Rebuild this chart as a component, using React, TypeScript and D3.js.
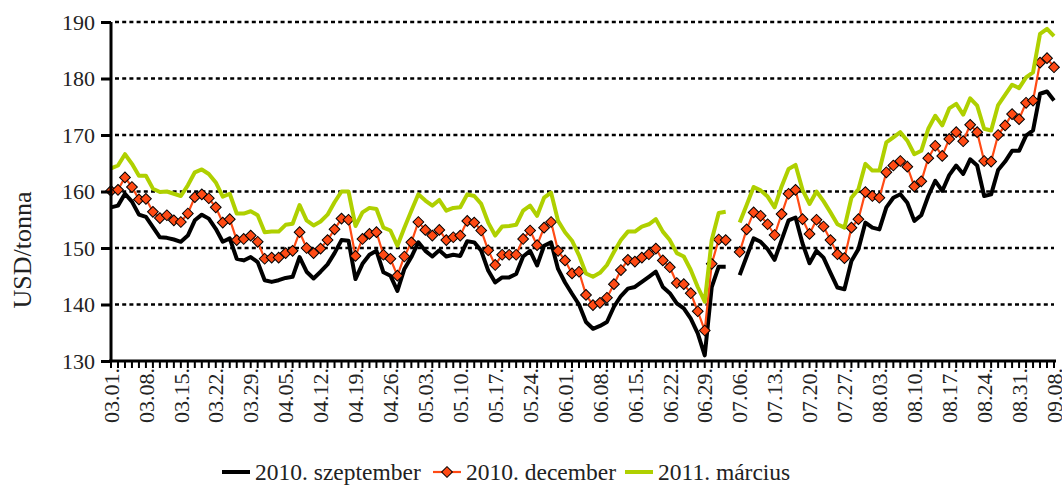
import React, { useRef, useEffect } from 'react';
import * as d3 from 'd3';

// tick labels, every 5th trading day
const tickLabels = ['03.01.', '03.08.', '03.15.', '03.22.', '03.29.', '04.05.', '04.12.', '04.19.', '04.26.', '05.03.',
    '05.10.', '05.17.', '05.24.', '06.01.', '06.08.', '06.15.', '06.22.', '06.29.', '07.06.', '07.13.',
    '07.20.', '07.27.', '08.03.', '08.10.', '08.17.', '08.24.', '08.31.', '09.08.'];

const yTicks = [130, 140, 150, 160, 170, 180, 190];

// USD/tonna, 2010. szeptember
const sept = [157.2, 157.5, 159.6, 158.2, 155.9, 155.5, 153.7, 151.9, 151.8, 151.5, 151.1, 152.2, 154.9, 155.9, 155.2, 153.4, 151.1, 151.7, 148.1, 147.8,
    148.4, 147.5, 144.3, 144.0, 144.3, 144.7, 144.9, 148.4, 145.8, 144.6, 145.8, 147.1, 149.1, 151.4,
    151.3, 144.5, 147.2, 148.8, 149.5, 145.7, 145.1, 142.4, 146.3, 148.4, 151.0, 149.5, 148.5, 149.6, 148.5, 148.8, 148.6, 151.2, 151.0, 149.5,
    146.0, 143.9, 144.8, 144.8, 145.4, 148.5, 149.5, 146.9, 150.4, 151.0, 146.3, 143.9, 141.9, 140.0,
    136.9, 135.7, 136.2, 136.9, 139.6, 141.5, 142.8, 143.1, 144.0, 144.9, 145.8, 143.1, 142.0, 140.2, 139.3, 137.5, 134.9, 131.0, 143.1, 146.7, 146.7,
    null,
    145.2, 148.5, 151.7, 151.1, 149.8, 147.9, 151.4, 154.9, 155.4, 150.8, 147.3,
    149.5, 148.3, 145.6, 143.0, 142.7, 147.7, 149.8, 154.5, 153.6, 153.3, 157.2, 158.9, 159.5, 158.0, 154.8, 155.8, 159.2, 161.9, 160.1, 162.9,
    164.6, 163.1, 165.7, 164.6, 159.2, 159.5, 163.8, 165.3, 167.2, 167.2, 169.9, 170.8, 177.3, 177.7, 176.1];

// 2010. december
const dec = [160.1, 160.3, 162.5, 160.8, 158.6, 158.7, 156.4, 155.3, 155.8, 154.9, 154.6, 156.1, 159.0, 159.5, 158.8, 157.2, 154.5, 155.1, 151.4, 151.6,
    152.2, 151.1, 148.1, 148.3, 148.3, 149.1, 149.5, 152.8, 150.0, 149.1, 149.9, 151.4, 153.3, 155.2,
    155.0, 148.6, 151.6, 152.5, 152.8, 148.8, 148.1, 145.1, 148.5, 151.0, 154.6, 153.2, 152.2, 153.2, 151.4, 151.9, 152.2, 154.8, 154.5, 153.1,
    149.6, 147.0, 148.8, 148.8, 148.8, 151.6, 153.1, 150.5, 153.6, 154.6, 149.5, 147.8, 145.5, 145.8,
    141.7, 139.9, 140.3, 141.2, 143.6, 146.1, 147.9, 147.6, 148.3, 148.9, 149.9, 147.8, 146.6, 143.8, 143.6, 142.0, 138.8, 135.4, 147.2, 151.5, 151.4,
    null,
    149.3, 153.3, 156.3, 155.7, 154.2, 152.3, 156.0, 159.6, 160.3, 155.1, 152.5,
    155.0, 153.8, 151.4, 148.9, 148.2, 153.6, 155.1, 159.9, 159.2, 158.9, 163.4, 164.6, 165.4, 164.4, 160.9, 161.8, 165.9, 168.1, 166.3, 169.3,
    170.5, 168.9, 171.8, 170.5, 165.4, 165.3, 170.0, 171.7, 173.7, 172.8, 175.7, 176.1, 182.8, 183.6, 182.0];

// 2011. március
const march = [164.1, 164.6, 166.6, 164.9, 162.8, 162.8, 160.5, 159.9, 160.0, 159.6, 159.2, 161.1, 163.4, 163.9, 163.1, 161.6, 159.1, 159.6, 156.1, 156.1,
    156.5, 155.8, 152.8, 152.9, 152.9, 154.1, 154.3, 157.6, 154.9, 154.0, 154.7, 155.9, 158.1, 160.0,
    160.0, 153.9, 156.3, 157.1, 156.9, 153.6, 153.1, 150.4, 153.6, 156.6, 159.5, 158.4, 157.5, 158.5, 156.6, 157.1, 157.2, 159.5, 159.2, 157.8,
    154.5, 152.2, 153.8, 153.9, 154.1, 156.6, 157.5, 155.7, 158.9, 159.8, 154.8, 152.8, 151.3, 148.7,
    145.5, 144.9, 145.6, 147.0, 149.3, 151.4, 152.9, 152.9, 153.8, 154.2, 155.1, 152.9, 151.4, 149.1, 148.5, 146.1, 143.1, 140.5, 151.4, 156.2, 156.4,
    null,
    154.5, 157.6, 160.8, 160.2, 159.1, 157.2, 160.9, 164.0, 164.7, 160.3, 157.8,
    160.0, 158.3, 156.3, 154.2, 153.6, 158.9, 160.4, 164.9, 163.7, 163.7, 168.7, 169.6, 170.5, 169.0, 166.6, 167.2, 171.1, 173.4, 171.7, 174.7,
    175.5, 173.6, 176.5, 175.2, 171.1, 170.8, 175.3, 177.1, 178.9, 178.3, 180.2, 181.1, 187.9, 188.8, 187.5];

const seriesNames = ['2010. szeptember', '2010. december', '2011. március'];

const BLACK = '#000000';
const ORANGE = '#FF4A14';
const GREEN = '#AFD000';
const FONT = '"Liberation Serif", "Times New Roman", serif';

const App = () => {
    const svgRef = useRef(null);

    useEffect(() => {
        const svg = d3.select(svgRef.current);
        svg.selectAll('*').remove();
        const width = 1062;
        const height = 485;
        const margin = { top: 22, right: 8, bottom: 124, left: 111 };

        const n = sept.length;
        const x = d3.scaleLinear().domain([0, n - 1]).range([margin.left, width - margin.right]);
        const y = d3.scaleLinear().domain([130, 190]).range([height - margin.bottom, margin.top]);

        // grid
        svg.append('g')
            .selectAll('line')
            .data(yTicks.filter(d => d > 130))
            .join('line')
            .attr('x1', margin.left + 4)
            .attr('x2', width - margin.right)
            .attr('y1', d => y(d))
            .attr('y2', d => y(d))
            .attr('stroke', '#000')
            .attr('stroke-width', 2.5)
            .attr('stroke-dasharray', '4 3.2');

        const line = d3.line()
            .defined(d => d != null)
            .x((d, i) => x(i))
            .y(d => y(d));

        svg.append('path').datum(sept)
            .attr('d', line).attr('fill', 'none')
            .attr('stroke', BLACK).attr('stroke-width', 4).attr('stroke-linejoin', 'round');

        svg.append('path').datum(dec)
            .attr('d', line).attr('fill', 'none')
            .attr('stroke', ORANGE).attr('stroke-width', 2.2).attr('stroke-linejoin', 'round');

        const diamond = d3.symbol(d3.symbolSquare, 58)();
        svg.append('g')
            .selectAll('path')
            .data(dec.map((v, i) => [i, v]).filter(d => d[1] != null))
            .join('path')
            .attr('d', diamond)
            .attr('transform', d => `translate(${x(d[0])},${y(d[1])}) rotate(45)`)
            .attr('fill', ORANGE)
            .attr('stroke', '#000')
            .attr('stroke-width', 1);

        svg.append('path').datum(march)
            .attr('d', line).attr('fill', 'none')
            .attr('stroke', GREEN).attr('stroke-width', 4).attr('stroke-linejoin', 'round');

        // y axis
        const gy = svg.append('g')
            .attr('transform', `translate(${margin.left},0)`)
            .call(d3.axisLeft(y).tickValues(yTicks).tickSize(10).tickPadding(6));
        gy.select('.domain').attr('stroke-width', 3).attr('d', `M0,${y(190)}V${y(130)}`);
        gy.selectAll('.tick line').attr('stroke-width', 3);
        gy.selectAll('text').attr('font-family', FONT).attr('font-size', 22).attr('fill', '#222');

        // x axis
        const gx = svg.append('g')
            .attr('transform', `translate(0,${y(130)})`);
        gx.append('line')
            .attr('x1', margin.left - 2).attr('x2', width - margin.right + 2)
            .attr('stroke', '#000').attr('stroke-width', 3);
        gx.selectAll('.xt')
            .data(d3.range(n))
            .join('line')
            .attr('class', 'xt')
            .attr('x1', d => x(d)).attr('x2', d => x(d))
            .attr('y1', 0).attr('y2', 7)
            .attr('stroke', '#000').attr('stroke-width', 2);
        gx.selectAll('text')
            .data(tickLabels)
            .join('text')
            .attr('transform', (d, i) => `translate(${x(i * 5)},7) rotate(-90)`)
            .attr('text-anchor', 'end')
            .attr('dy', '0.35em')
            .attr('font-family', FONT)
            .attr('font-size', 22)
            .attr('fill', '#222')
            .text(d => d);

        svg.append('text')
            .attr('transform', `translate(22,${250}) rotate(-90)`)
            .attr('text-anchor', 'middle')
            .attr('dy', '0.35em')
            .attr('font-family', FONT)
            .attr('font-size', 26)
            .attr('fill', '#222')
            .text('USD/tonna');

        // legend
        const lg = svg.append('g').attr('transform', 'translate(0,472)');
        const items = [
            { x: 222, color: BLACK, w: 4, marker: false },
            { x: 433, color: ORANGE, w: 2.2, marker: true },
            { x: 625, color: GREEN, w: 4, marker: false },
        ];
        items.forEach((it, k) => {
            lg.append('line').attr('x1', it.x).attr('x2', it.x + 28)
                .attr('stroke', it.color).attr('stroke-width', it.w);
            if (it.marker) {
                lg.append('path').attr('d', diamond)
                    .attr('transform', `translate(${it.x + 14},0) rotate(45)`)
                    .attr('fill', ORANGE).attr('stroke', '#000');
            }
            lg.append('text')
                .attr('x', it.x + 33)
                .attr('dy', '0.35em')
                .attr('font-family', FONT)
                .attr('font-size', 23.5)
                .attr('fill', '#222')
                .text(seriesNames[k]);
        });
    }, []);

    return <svg ref={svgRef} width={1062} height={485} style={{ position: 'absolute', left: 0, top: 0, background: '#fff' }}></svg>;
};

export default App;
